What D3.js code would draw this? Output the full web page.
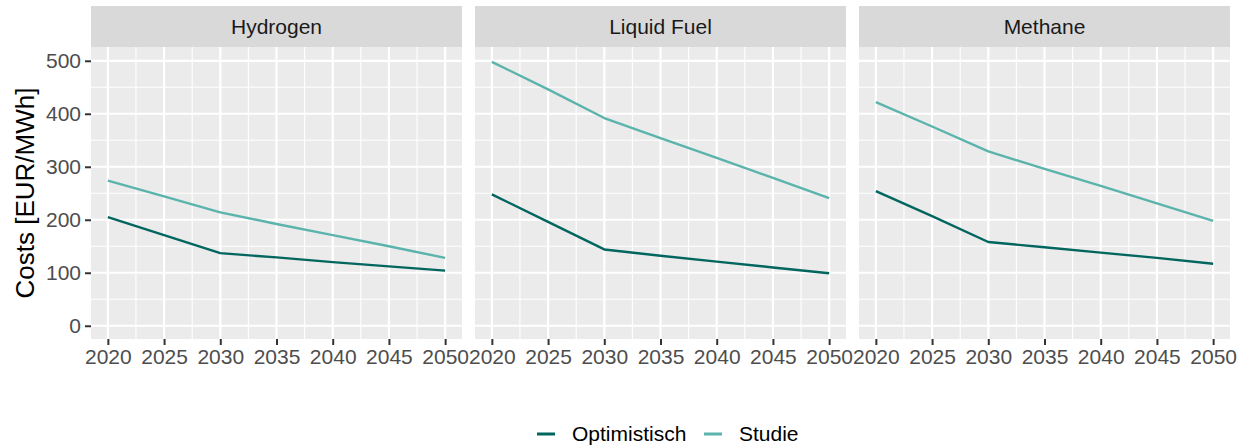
<!DOCTYPE html>
<html>
<head>
<meta charset="utf-8">
<script src="https://cdn.jsdelivr.net/npm/d3@7"></script>
<style>
  body { margin: 0; background: #fff; }
  svg { font-family: "Liberation Sans", Arial, sans-serif; }
</style>
</head>
<body>
<div id="chart"></div>
<script>
const facets = ['Hydrogen', 'Liquid Fuel', 'Methane'];
const years = [2020, 2025, 2030, 2035, 2040, 2045, 2050];
const scenarios = ['Optimistisch', 'Studie'];
const colors = ['#01665E', '#5AB4AC'];

// values per facet
const hydrogenOptimistisch = [205, 171, 137, 129, 120, 112, 104];
const hydrogenStudie = [274, 244, 214, 192, 171, 150, 128];
const liquidOptimistisch = [248, 196, 144, 132, 121, 110, 99];
const liquidStudie = [498, 446, 392, 354, 317, 279, 241];
const methaneOptimistisch = [254, 207, 158, 148, 138, 128, 117];
const methaneStudie = [422, 376, 329, 296, 264, 231, 198];

const yTicks = [0, 100, 200, 300, 400, 500];
const xTicks = [2020, 2025, 2030, 2035, 2040, 2045, 2050];

const series = [
  [hydrogenOptimistisch, hydrogenStudie],
  [liquidOptimistisch, liquidStudie],
  [methaneOptimistisch, methaneStudie]
];

const chart = {
  width: 1245,
  height: 448,
  panelLefts: [91, 475, 859],
  panelWidth: 371,
  stripTop: 6,
  panelTop: 47,
  panelBottom: 339
};

const svg = d3.select('#chart')
  .append('svg')
  .attr('width', chart.width)
  .attr('height', chart.height);

const yScale = d3.scaleLinear()
  .domain([-25, 526])
  .range([chart.panelBottom, chart.panelTop]);

const yMinor = d3.range(50, 526, 100);
const xMinor = d3.range(2022.5, 2050, 5);

facets.forEach((name, i) => {
  const left = chart.panelLefts[i];
  const xScale = d3.scaleLinear()
    .domain([2018.5, 2051.5])
    .range([left, left + chart.panelWidth]);

  const g = svg.append('g');

  // strip
  g.append('rect')
    .attr('x', left)
    .attr('y', chart.stripTop)
    .attr('width', chart.panelWidth)
    .attr('height', chart.panelTop - chart.stripTop)
    .attr('fill', '#D9D9D9');

  g.append('text')
    .attr('x', left + chart.panelWidth / 2)
    .attr('y', (chart.stripTop + chart.panelTop) / 2)
    .attr('dy', '0.35em')
    .attr('text-anchor', 'middle')
    .attr('font-size', 21)
    .attr('fill', '#1A1A1A')
    .text(name);

  // panel
  g.append('rect')
    .attr('x', left)
    .attr('y', chart.panelTop)
    .attr('width', chart.panelWidth)
    .attr('height', chart.panelBottom - chart.panelTop)
    .attr('fill', '#EBEBEB');

  g.selectAll('.ymin')
    .data(yMinor)
    .enter().append('line')
    .attr('x1', left).attr('x2', left + chart.panelWidth)
    .attr('y1', (d) => yScale(d)).attr('y2', (d) => yScale(d))
    .attr('stroke', '#fff').attr('stroke-width', 1.1);

  g.selectAll('.xmin')
    .data(xMinor)
    .enter().append('line')
    .attr('y1', chart.panelTop).attr('y2', chart.panelBottom)
    .attr('x1', (d) => xScale(d)).attr('x2', (d) => xScale(d))
    .attr('stroke', '#fff').attr('stroke-width', 1.1);

  g.selectAll('.ymaj')
    .data(yTicks)
    .enter().append('line')
    .attr('x1', left).attr('x2', left + chart.panelWidth)
    .attr('y1', (d) => yScale(d)).attr('y2', (d) => yScale(d))
    .attr('stroke', '#fff').attr('stroke-width', 2.2);

  g.selectAll('.xmaj')
    .data(xTicks)
    .enter().append('line')
    .attr('y1', chart.panelTop).attr('y2', chart.panelBottom)
    .attr('x1', (d) => xScale(d)).attr('x2', (d) => xScale(d))
    .attr('stroke', '#fff').attr('stroke-width', 2.2);

  // lines
  const line = d3.line()
    .x((d, j) => xScale(years[j]))
    .y((d) => yScale(d));

  series[i].forEach((vals, k) => {
    g.append('path')
      .datum(vals)
      .attr('d', line)
      .attr('fill', 'none')
      .attr('stroke', colors[k])
      .attr('stroke-width', 2.4)
      .attr('stroke-linejoin', 'round');
  });

  // x axis
  const xAxis = d3.axisBottom(xScale)
    .tickValues(xTicks)
    .tickFormat(d3.format('d'))
    .tickSize(6)
    .tickPadding(4);

  const xg = g.append('g')
    .attr('transform', `translate(0, ${chart.panelBottom})`)
    .call(xAxis);
  xg.select('.domain').remove();
  xg.selectAll('line').attr('stroke', '#333333').attr('stroke-width', 2);
  xg.selectAll('text')
    .attr('font-size', 21)
    .attr('font-family', '"Liberation Sans", Arial, sans-serif')
    .attr('fill', '#4D4D4D');

  // y axis only on first panel
  if (i === 0) {
    const yAxis = d3.axisLeft(yScale)
      .tickValues(yTicks)
      .tickSize(6)
      .tickPadding(4);
    const yg = g.append('g')
      .attr('transform', `translate(${left}, 0)`)
      .call(yAxis);
    yg.select('.domain').remove();
    yg.selectAll('line').attr('stroke', '#333333').attr('stroke-width', 2);
    yg.selectAll('text')
      .attr('font-size', 21)
      .attr('font-family', '"Liberation Sans", Arial, sans-serif')
      .attr('fill', '#4D4D4D');
  }
});

// y axis title
svg.append('text')
  .attr('transform', `translate(34, ${(chart.panelTop + chart.panelBottom) / 2}) rotate(-90)`)
  .attr('text-anchor', 'middle')
  .attr('font-size', 26)
  .attr('fill', '#000')
  .text('Costs [EUR/MWh]');

// legend
const legendX = [537, 704];
const legend = svg.append('g');
scenarios.forEach((s, k) => {
  legend.append('line')
    .attr('x1', legendX[k]).attr('x2', legendX[k] + 18)
    .attr('y1', 434).attr('y2', 434)
    .attr('stroke', colors[k])
    .attr('stroke-width', 3);
  legend.append('text')
    .attr('x', legendX[k] + 35)
    .attr('y', 434)
    .attr('dy', '0.35em')
    .attr('font-size', 21)
    .attr('fill', '#000')
    .text(s);
});
</script>
</body>
</html>
